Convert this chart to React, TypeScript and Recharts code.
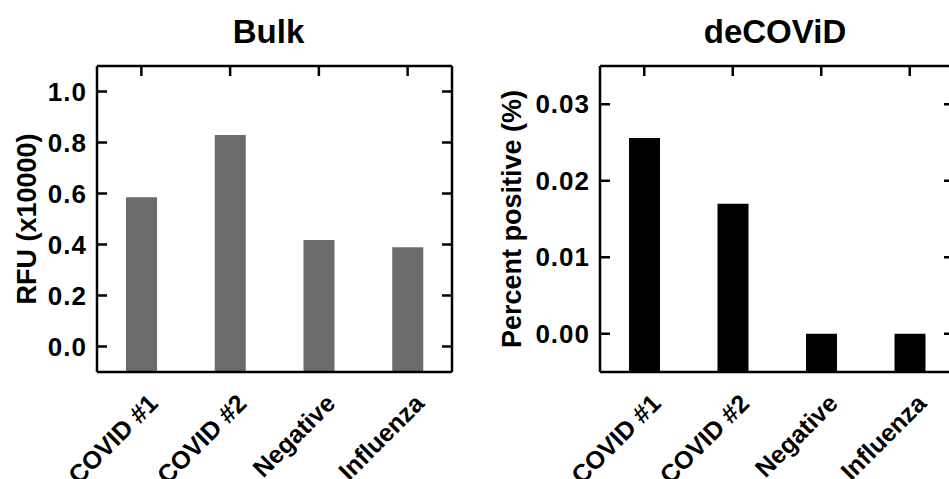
import { BarChart, Bar, XAxis, YAxis } from 'recharts';

const categories = ['COVID #1', 'COVID #2', 'Negative', 'Influenza'];
const bulkValues = [0.585, 0.829, 0.418, 0.389];
const decovidValues = [0.0256, 0.017, 0, 0];
const bulkTicks = [0, 0.2, 0.4, 0.6, 0.8, 1.0];
const decovidTicks = [0, 0.01, 0.02, 0.03];
const bulkDomain: [number, number] = [-0.1, 1.1];
const decovidDomain: [number, number] = [-0.005, 0.035];

const FONT = '"Liberation Sans", Arial, Helvetica, sans-serif';
const TICK_LEN = 10;
const STROKE = 2.5;

// bars start at the bottom of the frame, not at zero
const bulkData = categories.map((name, i) => ({ name, value: [bulkDomain[0], bulkValues[i]] }));
const decovidData = categories.map((name, i) => ({ name, value: [decovidDomain[0], decovidValues[i]] }));

function LeftTick(props: any) {
  const { x, y, payload, digits } = props;
  return (
    <g>
      <line x1={x} x2={x + TICK_LEN} y1={y} y2={y} stroke="#000" strokeWidth={STROKE} />
      <text x={x - 10} y={y} dy={9} textAnchor="end" fontFamily={FONT} fontWeight="bold" fontSize={26} letterSpacing={1} fill="#000">
        {Number(payload.value).toFixed(digits)}
      </text>
    </g>
  );
}

function RightTick(props: any) {
  const { x, y } = props;
  return <line x1={x - TICK_LEN} x2={x} y1={y} y2={y} stroke="#000" strokeWidth={STROKE} />;
}

function TopTick(props: any) {
  const { x, y } = props;
  return <line x1={x} x2={x} y1={y} y2={y + TICK_LEN} stroke="#000" strokeWidth={STROKE} />;
}

function CategoryTick(props: any) {
  const { x, y, payload } = props;
  const tx = x + 18;
  const ty = y + 33;
  return (
    <text x={tx} y={ty} textAnchor="end" transform={`rotate(-45, ${tx}, ${ty})`} fontFamily={FONT} fontWeight="bold" fontSize={25} fill="#000">
      {payload.value}
    </text>
  );
}

function Panel(props: any) {
  const { data, title, titleDx, yLabel, yLabelX, domain, ticks, digits, fill, width, yWidth } = props;
  return (
    <BarChart width={width} height={479} data={data} margin={{ top: 65, right: 22, bottom: 0, left: 0 }} barSize={31}>
      <XAxis
        dataKey="name"
        height={107}
        interval={0}
        tickSize={0}
        tickMargin={0}
        tickLine={false}
        axisLine={{ stroke: '#000', strokeWidth: STROKE }}
        tick={(p: any) => <CategoryTick {...p} />}
      />
      <XAxis
        xAxisId="top"
        dataKey="name"
        orientation="top"
        height={1}
        interval={0}
        tickSize={0}
        tickMargin={0}
        tickLine={false}
        axisLine={{ stroke: '#000', strokeWidth: STROKE }}
        tick={(p: any) => <TopTick {...p} />}
        label={(p: any) => (
          <text x={p.viewBox.x + p.viewBox.width / 2 + titleDx} y={p.viewBox.y - 22} textAnchor="middle" fontFamily={FONT} fontWeight="bold" fontSize={33} fill="#000">
            {title}
          </text>
        )}
      />
      <YAxis
        type="number"
        domain={domain}
        ticks={ticks}
        allowDataOverflow
        width={yWidth}
        tickSize={0}
        tickMargin={0}
        tickLine={false}
        axisLine={{ stroke: '#000', strokeWidth: STROKE }}
        tick={(p: any) => <LeftTick {...p} digits={digits} />}
        label={(p: any) => {
          const cx = p.viewBox.x + yLabelX;
          const cy = p.viewBox.y + p.viewBox.height / 2;
          return (
            <text x={cx} y={cy} dy={9} textAnchor="middle" transform={`rotate(-90, ${cx}, ${cy})`} fontFamily={FONT} fontWeight="bold" fontSize={27} fill="#000">
              {yLabel}
            </text>
          );
        }}
      />
      <YAxis
        yAxisId="right"
        orientation="right"
        type="number"
        domain={domain}
        ticks={ticks}
        allowDataOverflow
        width={1}
        tickSize={0}
        tickMargin={0}
        tickLine={false}
        axisLine={{ stroke: '#000', strokeWidth: STROKE }}
        tick={(p: any) => <RightTick {...p} />}
      />
      <Bar dataKey="value" fill={fill} isAnimationActive={false} />
      {/* invisible series so the top/right frame axes get drawn */}
      <Bar dataKey="value" xAxisId="top" yAxisId="right" fill="none" isAnimationActive={false} />
    </BarChart>
  );
}

export default function App() {
  return (
    <div style={{ position: 'absolute', left: 0, top: 0, width: 949, height: 479, overflow: 'hidden', background: '#fff' }}>
      <div style={{ position: 'absolute', left: 0, top: 0 }}>
        <Panel
          data={bulkData}
          title="Bulk"
          titleDx={-6}
          yLabel="RFU (x10000)"
          yLabelX={27}
          domain={bulkDomain}
          ticks={bulkTicks}
          digits={1}
          fill="#6b6b6b"
          width={475}
          yWidth={97}
        />
      </div>
      <div style={{ position: 'absolute', left: 475, top: 0 }}>
        <Panel
          data={decovidData}
          title="deCOViD"
          titleDx={-2}
          yLabel="Percent positive (%)"
          yLabelX={37}
          domain={decovidDomain}
          ticks={decovidTicks}
          digits={2}
          fill="#000"
          width={502}
          yWidth={125}
        />
      </div>
    </div>
  );
}
